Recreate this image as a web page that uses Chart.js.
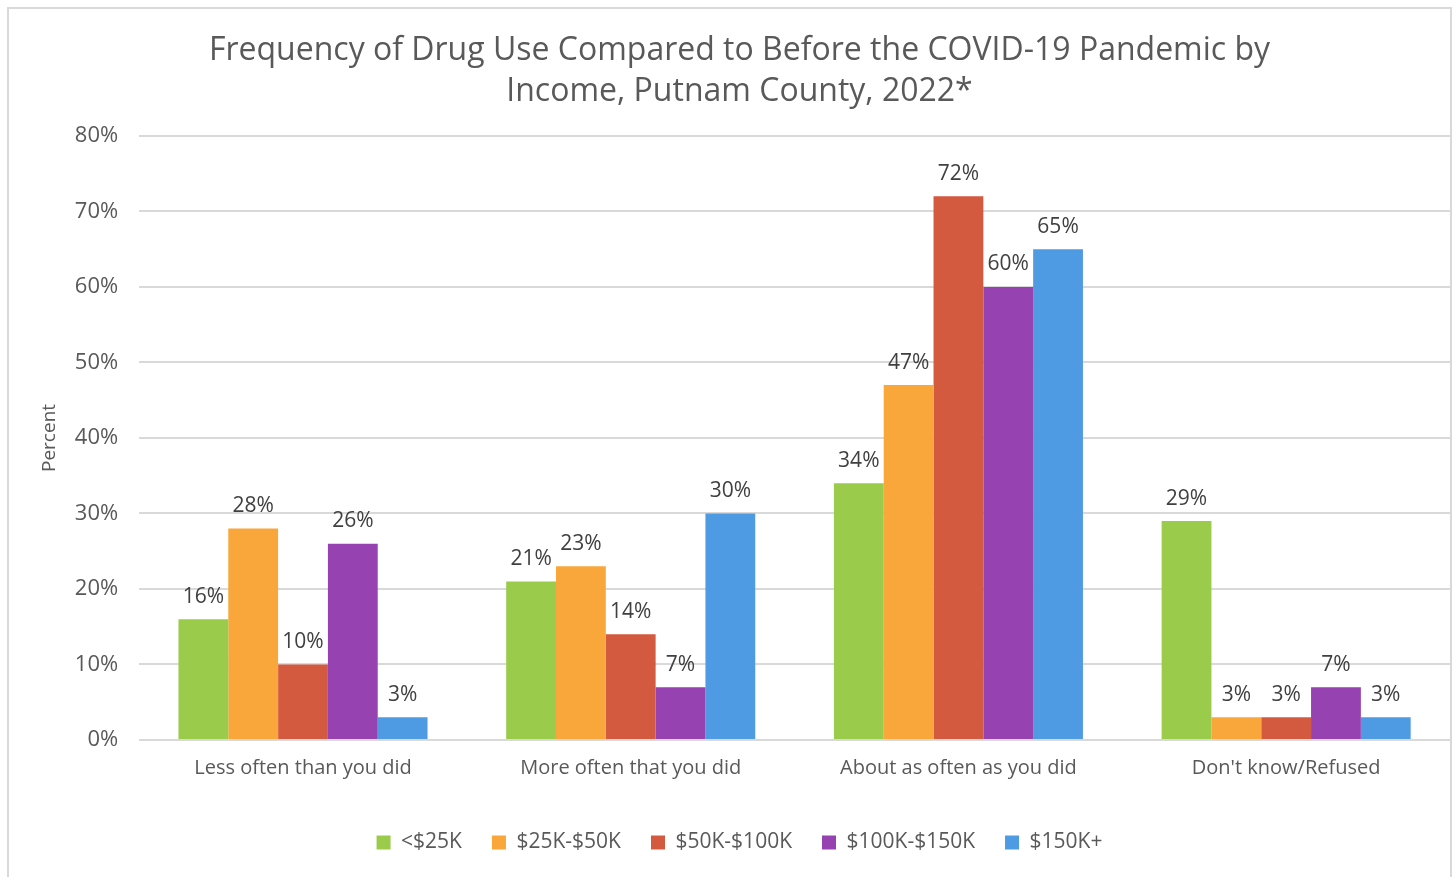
<!DOCTYPE html>
<html>
<head>
<meta charset="utf-8">
<script src="https://cdn.jsdelivr.net/npm/chart.js@4.4.0/dist/chart.umd.min.js"></script>
<style>
    html, body { margin: 0; padding: 0; background: #fff; }
    #box {
        position: absolute; left: 7px; top: 7px;
        width: 1445px; height: 880px;
        border: 2px solid #d9d9d9; box-sizing: border-box;
    }
    #chart { display: block; }
</style>
</head>
<body>
<div id="box"><canvas id="chart" width="1441" height="876"></canvas></div>
<script>
    var categories = ['Less often than you did', 'More often that you did', 'About as often as you did', "Don't know/Refused"];
    var seriesNames = ['<$25K', '$25K-$50K', '$50K-$100K', '$100K-$150K', '$150K+'];
    var under25 = [16, 21, 34, 29];
    var from25to50 = [28, 23, 47, 3];
    var from50to100 = [10, 14, 72, 3];
    var from100to150 = [26, 7, 60, 7];
    var over150 = [3, 30, 65, 3];
    var colors = ['#9BCB4A', '#F9A73B', '#D45A3F', '#9642B0', '#4F9BE3'];

    var font = "'Open Sans', 'DejaVu Sans', sans-serif";
    var grey = '#595959';

    // labels above each bar
    var barLabels = {
        id: 'barLabels',
        afterDatasetsDraw: function (chart) {
            var ctx = chart.ctx;
            ctx.save();
            ctx.font = '21px ' + font;
            ctx.fillStyle = '#404040';
            ctx.textAlign = 'center';
            ctx.textBaseline = 'bottom';
            chart.data.datasets.forEach(function (ds, i) {
                chart.getDatasetMeta(i).data.forEach(function (bar, j) {
                    ctx.fillText(ds.data[j] + '%', bar.x, bar.y - 12);
                });
            });
            ctx.restore();
        }
    };

    var allData = [under25, from25to50, from50to100, from100to150, over150];
    var datasets = allData.map(function (d, i) {
        return {
            label: seriesNames[i],
            data: d,
            backgroundColor: colors[i],
            borderWidth: 0,
            barPercentage: 1.0,
            categoryPercentage: 0.76
        };
    });

    new Chart(document.getElementById('chart'), {
        type: 'bar',
        data: { labels: categories, datasets: datasets },
        plugins: [barLabels],
        options: {
            responsive: false,
            animation: false,
            layout: { padding: { left: 20, right: 0, top: 10, bottom: 22 } },
            plugins: {
                title: {
                    display: true,
                    text: ['Frequency of Drug Use Compared to Before the COVID-19 Pandemic by', 'Income, Putnam County, 2022*'],
                    color: grey,
                    font: { family: font, size: 32, weight: 'normal', lineHeight: 1.28 },
                    padding: { top: 11, bottom: 24 }
                },
                legend: {
                    position: 'bottom',
                    labels: {
                        color: grey,
                        font: { family: font, size: 21 },
                        boxWidth: 14,
                        boxHeight: 14,
                        padding: 30
                    }
                },
                tooltip: { enabled: false }
            },
            scales: {
                x: {
                    grid: { display: false },
                    border: { display: false },
                    ticks: { color: grey, font: { family: font, size: 20 }, padding: 8 },
                    // empty title only keeps room between the labels and the legend
                    title: { display: true, text: ' ', font: { size: 10, lineHeight: 1.2 }, padding: { top: 0, bottom: 2 } }
                },
                y: {
                    min: 0,
                    max: 80,
                    ticks: {
                        stepSize: 10,
                        color: grey,
                        font: { family: font, size: 22 },
                        padding: 21,
                        callback: function (v) { return v + '%'; }
                    },
                    grid: { color: '#d9d9d9', lineWidth: 2, drawTicks: false },
                    border: { display: false },
                    title: {
                        display: true,
                        text: 'Percent',
                        color: grey,
                        font: { family: font, size: 19 },
                        padding: { top: 9, bottom: -7 }
                    }
                }
            }
        }
    });
</script>
</body>
</html>
